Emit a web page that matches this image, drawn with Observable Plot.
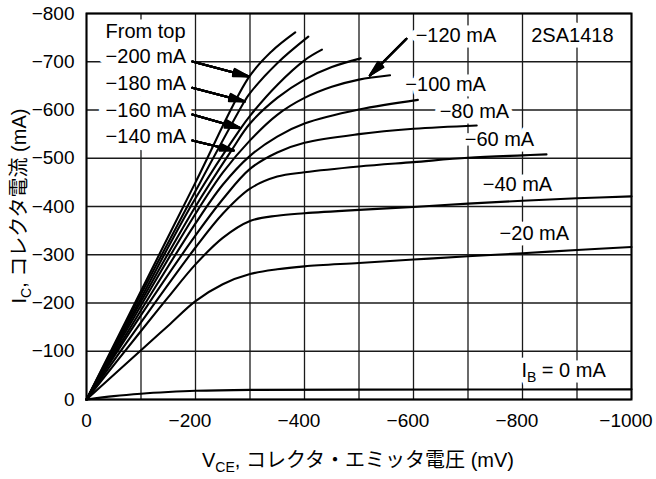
<!DOCTYPE html>
<html><head><meta charset="utf-8">
<script src="https://cdn.jsdelivr.net/npm/d3@7"></script>
<script src="https://cdn.jsdelivr.net/npm/@observablehq/plot@0.6"></script>
<style>body{margin:0;background:#fff;}</style>
</head><body><div id="chart"></div>
<script>
const FONT = "'Liberation Sans', Arial, Helvetica, 'Noto Sans CJK JP', sans-serif";

// grid and tick values
const xGrid = [0,-100,-200,-300,-400,-500,-600,-700,-800,-900,-1000];
const yGrid = [0,-100,-200,-300,-400,-500,-600,-700,-800];
const xTickZero = [0];
const xTickLabels = [-200,-400,-600,-800,-1000];
const yTickLabels = [0,-100,-200,-300,-400,-500,-600,-700,-800];

// curves: [VCE (mV), IC (mA)] for each base current IB (mA)
const ib0   = [[0,0],[-50,-7],[-100,-12],[-150,-15.5],[-200,-18],[-300,-20],[-500,-20.5],[-1000,-21]];
const ib20  = [[0,0],[-100,-102],[-150,-153],[-200,-204],[-250,-239],[-300,-260],[-350,-270],[-400,-276],[-500,-283],[-600,-290],[-700,-297],[-800,-303],[-900,-310],[-1000,-316]];
const ib40  = [[0,0],[-100,-142],[-150,-212],[-200,-280],[-250,-335],[-300,-370],[-350,-381],[-400,-386],[-500,-393],[-600,-399],[-700,-406],[-800,-412],[-900,-417],[-1000,-421]];
const ib60  = [[0,0],[-100,-160],[-200,-315],[-250,-385],[-300,-437],[-350,-462],[-400,-471],[-500,-483],[-600,-492],[-700,-501],[-800,-506],[-844,-508]];
const ib80  = [[0,0],[-100,-175],[-200,-340],[-250,-415],[-300,-478],[-350,-512],[-400,-532],[-500,-550],[-600,-561],[-716,-568]];
const ib100 = [[0,0],[-100,-185],[-200,-365],[-250,-445],[-300,-505],[-350,-545],[-400,-572],[-500,-601],[-608,-621]];
const ib120 = [[0,0],[-100,-195],[-200,-385],[-250,-470],[-300,-537],[-350,-590],[-400,-625],[-450,-648],[-500,-663],[-557,-672]];
const ib140 = [[0,0],[-100,-203],[-200,-400],[-267,-518],[-300,-572],[-350,-625],[-400,-663],[-450,-689],[-503,-707]];
const ib160 = [[0,0],[-100,-210],[-200,-417],[-283,-562],[-300,-588],[-350,-652],[-400,-703],[-432,-725]];
const ib180 = [[0,0],[-100,-218],[-200,-432],[-290,-618],[-300,-635],[-350,-697],[-407,-752]];
const ib200 = [[0,0],[-100,-225],[-200,-450],[-298,-668],[-340,-722],[-383,-761]];
const ibValues = [0,-20,-40,-60,-80,-100,-120,-140,-160,-180,-200];
const ibCurves = [ib0,ib20,ib40,ib60,ib80,ib100,ib120,ib140,ib160,ib180,ib200];

// annotations
const labelText = ["From top","−200 mA","−180 mA","−160 mA","−140 mA"];
const labelX = [-35,-35,-35,-35,-35];
const labelY = [-750,-697,-642,-586.5,-531];
const rLabelText = ["−120 mA","2SA1418","−100 mA","−80 mA","−60 mA","−40 mA","−20 mA","IB = 0 mA"];
const rLabelX = [-604,-816,-585,-648,-694,-727,-758,-798];
const rLabelY = [-740.5,-740.5,-639,-584,-526,-432,-331,-45.6];
const arrowX1 = [-194,-194,-194,-194,-587];
const arrowY1 = [-700.5,-646,-590.7,-536.8,-747.6];
const arrowX2 = [-297.8,-290.5,-282.6,-270.3,-519.8];
const arrowY2 = [-669.4,-617.6,-562.3,-516,-671.5];

const rows = ibCurves.flatMap((pts, k) => pts.map(([v, i]) => ({ib: ibValues[k], v, i})));
const labels = labelText.map((t, k) => ({t, x: labelX[k], y: labelY[k]}));
const rLabels = rLabelText.map((t, k) => ({t, x: rLabelX[k], y: rLabelY[k]}));
const arrows = arrowX1.map((x1, k) => ({x1, y1: arrowY1[k], x2: arrowX2[k], y2: arrowY2[k]}));
const headAngles = [4, 10, 16, 22, 28];
const fmt = d3.format("d");

const txt = {x: "x", y: "y", text: "t", textAnchor: "start", lineAnchor: "bottom", fontSize: 20};

const chart = Plot.plot({
  width: 656, height: 479,
  marginLeft: 86, marginRight: 25, marginTop: 13, marginBottom: 80,
  style: {fontFamily: FONT, fontSize: "19px", color: "black", background: "white"},
  x: {domain: [0, -1000]},
  y: {domain: [0, -800]},
  marks: [
    Plot.ruleX(xGrid, {stroke: "#1a1a1a", strokeWidth: 1.3}),
    Plot.ruleY(yGrid, {stroke: "#1a1a1a", strokeWidth: 1.3}),
    Plot.frame({stroke: "black", strokeWidth: 2}),
    Plot.axisX({ticks: xTickZero, tickSize: 0, tickPadding: 14, label: null, fontSize: 19, tickFormat: fmt}),
    Plot.axisX({ticks: xTickLabels, tickSize: 0, tickPadding: 14, label: null, fontSize: 19, tickFormat: fmt, dx: -5.5}),
    Plot.axisY({ticks: yTickLabels, tickSize: 0, tickPadding: 12, label: null, fontSize: 19, tickFormat: fmt}),
    Plot.line(rows, {x: "v", y: "i", z: "ib", stroke: "black", strokeWidth: 2.1, curve: "catmull-rom"}),
    Plot.text(labels, {...txt, fill: "white", stroke: "white", strokeWidth: 15}),
    Plot.text(rLabels, {...txt, fill: "white", stroke: "white", strokeWidth: 11}),
    Plot.text(labels, {...txt, fill: "black"}),
    Plot.text(rLabels, {...txt, fill: "black"}),
    ...headAngles.map(a => Plot.arrow(arrows, {x1: "x1", y1: "y1", x2: "x2", y2: "y2", stroke: "black", strokeWidth: 2, headLength: 12, headAngle: a}))
  ]
});

const svg = d3.select(chart);
// subscript for IB label
svg.selectAll("text").filter(function(){ return this.textContent === "IB = 0 mA"; }).each(function(){
  const t = d3.select(this);
  t.text(null);
  t.append("tspan").text("I");
  t.append("tspan").attr("font-size", 14).attr("dy", 5).text("B");
  t.append("tspan").attr("dy", -5).text(" = 0 mA");
});
// axis titles
const xt = svg.append("text").attr("x", 358).attr("y", 467).attr("text-anchor", "middle")
  .attr("font-size", 20).attr("fill", "black").attr("font-family", FONT);
xt.append("tspan").text("V");
xt.append("tspan").attr("font-size", 14).attr("dy", 5).text("CE");
xt.append("tspan").attr("dy", -5).text(", コレクタ・エミッタ電圧 (mV)");
const yt = svg.append("text").attr("transform", "translate(26,206) rotate(-90)").attr("text-anchor", "middle")
  .attr("font-size", 20).attr("fill", "black").attr("font-family", FONT);
yt.append("tspan").text("I");
yt.append("tspan").attr("font-size", 14).attr("dy", 5).text("C");
yt.append("tspan").attr("dy", -5).text(", コレクタ電流 (mA)");

document.getElementById("chart").appendChild(chart);
</script>
</body></html>
